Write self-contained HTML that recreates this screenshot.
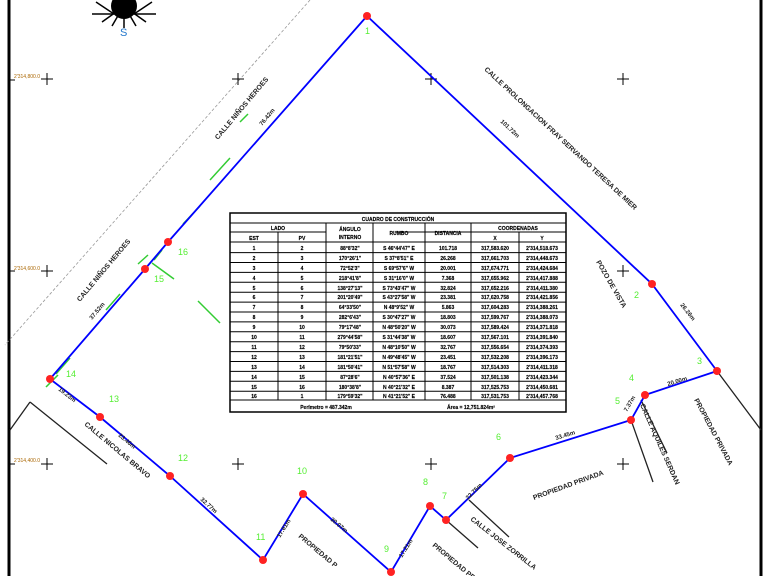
<!DOCTYPE html>
<html><head><meta charset="utf-8"><style>
html,body{margin:0;padding:0;background:#fff;width:768px;height:576px;overflow:hidden}
svg{display:block}
text{font-family:"Liberation Sans",sans-serif}
.st{font-size:7px;font-weight:bold;fill:#222}
.gn{font-size:9px;fill:#5e3;}
.d{font-size:6px;font-weight:bold;fill:#222}
.t{font-size:5px;font-weight:bold;fill:#000;text-anchor:middle;stroke:#000;stroke-width:0.15}
</style></head><body>
<svg width="768" height="576" viewBox="0 0 768 576" xmlns="http://www.w3.org/2000/svg">
<rect width="768" height="576" fill="#fff"/>
<line x1="9" y1="0" x2="9" y2="576" stroke="#000" stroke-width="3"/>
<line x1="761" y1="0" x2="761" y2="576" stroke="#000" stroke-width="3"/>
<line x1="310" y1="0" x2="5" y2="345" stroke="#999" stroke-width="0.8" stroke-dasharray="3,2"/>
<!-- compass -->
<g transform="translate(124,6)">
<circle r="13" fill="#000"/>
<g stroke="#000" stroke-width="1.5"><line x1="-32" y1="8" x2="32" y2="8"/><line x1="-28" y1="-4" x2="-10" y2="8"/><line x1="28" y1="-4" x2="10" y2="8"/><line x1="-12" y1="20" x2="-5" y2="8"/><line x1="12" y1="20" x2="5" y2="8"/><line x1="-22" y1="16" x2="-8" y2="6"/><line x1="22" y1="16" x2="8" y2="6"/><line x1="0" y1="0" x2="0" y2="22"/></g>
<text x="-4" y="30" font-size="11" fill="#27c">S</text>
</g>
<!-- grid crosses -->
<g stroke="#000" stroke-width="1">
<path d="M41 79h12M47 73v12M232 79h12M238 73v12M425 79h12M431 73v12M617 79h12M623 73v12"/>
<path d="M41 271h12M47 265v12M617 271h12M623 265v12"/>
<path d="M41 464h12M47 458v12M232 464h12M238 458v12M425 464h12M431 458v12M617 464h12M623 458v12"/>
<path d="M9 80h6M9 271h6M9 464h6"/>
</g>
<g font-size="5" fill="#a60"><text x="14" y="78">2'314,800.0</text><text x="14" y="270">2'314,600.0</text><text x="14" y="462">2'314,400.0</text></g>
<!-- black street lines -->
<g stroke="#222" stroke-width="1.3">
<path d="M30 402L107 464M717 371L761 430M641 400L667 453M631 420L653 482M446 520L478 548M469 500L509 537"/>
<path d="M10 430L30 402"/>
</g>
<!-- green segments -->
<g stroke="#3c3" stroke-width="1.5">
<path d="M248 114l-8 8M230 158l-20 22M200 206l-17 18M162 250l-8 10M148 255l-10 9M120 294l-14 16M70 358l-14 16M58 375l-12 12M198 301l22 22M152 263l22 16"/>
</g>
<polyline fill="none" stroke="#00f" stroke-width="1.8" points="367,16 652,284 717,371 645,395 631,420 510,458 446,520 430,506 391,572 303,494 263,560 170,476 100,417 50,379 145,269 168,242 367,16"/>
<g fill="#f22">
<circle cx="367" cy="16" r="4"/><circle cx="652" cy="284" r="4"/><circle cx="717" cy="371" r="4"/><circle cx="645" cy="395" r="4"/><circle cx="631" cy="420" r="4"/><circle cx="510" cy="458" r="4"/><circle cx="446" cy="520" r="4"/><circle cx="430" cy="506" r="4"/><circle cx="391" cy="572" r="4"/><circle cx="303" cy="494" r="4"/><circle cx="263" cy="560" r="4"/><circle cx="170" cy="476" r="4"/><circle cx="100" cy="417" r="4"/><circle cx="50" cy="379" r="4"/><circle cx="145" cy="269" r="4"/><circle cx="168" cy="242" r="4"/>
</g>
<g class="gn">
<text x="365" y="34">1</text><text x="634" y="298">2</text><text x="697" y="364">3</text><text x="629" y="381">4</text><text x="615" y="404">5</text><text x="496" y="440">6</text><text x="442" y="499">7</text><text x="423" y="485">8</text><text x="384" y="552">9</text><text x="297" y="474">10</text><text x="256" y="540">11</text><text x="178" y="461">12</text><text x="109" y="402">13</text><text x="66" y="377">14</text><text x="154" y="282">15</text><text x="178" y="255">16</text>
</g>
<!-- street labels -->
<text class="st" transform="translate(218,140) rotate(-50)">CALLE NIÑOS HEROES</text>
<text class="st" transform="translate(80,302) rotate(-50)">CALLE NIÑOS HEROES</text>
<text class="st" transform="translate(484,70) rotate(43)">CALLE PROLONGACION FRAY SERVANDO TERESA DE MIER</text>
<text class="st" transform="translate(596,262) rotate(60)">POZO DE VISTA</text>
<text class="st" transform="translate(694,400) rotate(62)">PROPIEDAD PRIVADA</text>
<text class="st" transform="translate(640,405) rotate(66)">CALLE AQUILES SERDAN</text>
<text class="st" transform="translate(534,500) rotate(-20)">PROPIEDAD PRIVADA</text>
<text class="st" transform="translate(470,520) rotate(38)">CALLE JOSE ZORRILLA</text>
<text class="st" transform="translate(432,546) rotate(40)">PROPIEDAD PRIVADA</text>
<text class="st" transform="translate(298,537) rotate(40)">PROPIEDAD P</text>
<text class="st" transform="translate(84,425) rotate(40)">CALLE NICOLAS BRAVO</text>
<!-- distances -->
<g class="d">
<text transform="translate(500,122) rotate(43)">101.72m</text>
<text transform="translate(680,305) rotate(52)">26.26m</text>
<text transform="translate(668,386) rotate(-17)">20.00m</text>
<text transform="translate(627,412) rotate(-60)">7.37m</text>
<text transform="translate(556,440) rotate(-17)">33.45m</text>
<text transform="translate(468,500) rotate(-45)">22.75m</text>
<text transform="translate(402,558) rotate(-58)">17.21m</text>
<text transform="translate(330,520) rotate(40)">30.07m</text>
<text transform="translate(280,538) rotate(-58)">17.61m</text>
<text transform="translate(200,500) rotate(42)">32.77m</text>
<text transform="translate(118,436) rotate(40)">23.46m</text>
<text transform="translate(58,390) rotate(38)">19.23m</text>
<text transform="translate(92,320) rotate(-50)">37.52m</text>
<text transform="translate(262,126) rotate(-50)">76.42m</text>
</g>
<!-- table -->
<g transform="translate(230,213)">
<rect x="0" y="0" width="336" height="199" fill="#fff" stroke="#000" stroke-width="1.5"/>
<line x1="0" y1="10" x2="336" y2="10" stroke="#000"/>
<line x1="0" y1="29" x2="336" y2="29" stroke="#000"/>
<line x1="0" y1="187" x2="336" y2="187" stroke="#000"/>
<g stroke="#000"><line x1="0" y1="19" x2="96" y2="19"/><line x1="165" y1="19" x2="336" y2="19"/>
<line x1="96" y1="10" x2="96" y2="187"/><line x1="143" y1="10" x2="143" y2="187"/><line x1="195" y1="10" x2="195" y2="187"/><line x1="241" y1="10" x2="241" y2="187"/><line x1="289" y1="19" x2="289" y2="187"/><line x1="48" y1="19" x2="48" y2="187"/>
<path d="M0 39.6h336M0 49.5h336M0 59.4h336M0 69.3h336M0 79.2h336M0 89.1h336M0 99h336M0 108.9h336M0 118.8h336M0 128.7h336M0 138.6h336M0 148.5h336M0 158.4h336M0 168.3h336M0 178.2h336"/>
</g>
<text class="t" x="168" y="8">CUADRO DE CONSTRUCCIÓN</text>
<text class="t" x="48" y="17">LADO</text><text class="t" x="24" y="27">EST</text><text class="t" x="72" y="27">PV</text>
<text class="t" x="120" y="18">ÁNGULO</text><text class="t" x="120" y="26">INTERNO</text>
<text class="t" x="169" y="22">RUMBO</text><text class="t" x="218" y="22">DISTANCIA</text>
<text class="t" x="288" y="17">COORDENADAS</text><text class="t" x="265" y="27">X</text><text class="t" x="312" y="27">Y</text>
<g class="t">
<text x="24" y="37">1</text><text x="72" y="37">2</text><text x="120" y="37">88°8'32"</text><text x="169" y="37">S 46°44'47" E</text><text x="218" y="37">101.718</text><text x="265" y="37">317,583.620</text><text x="312" y="37">2'314,518.673</text>
<text x="24" y="47">2</text><text x="72" y="47">3</text><text x="120" y="47">170°26'1"</text><text x="169" y="47">S 37°8'51" E</text><text x="218" y="47">26.268</text><text x="265" y="47">317,661.703</text><text x="312" y="47">2'314,448.673</text>
<text x="24" y="57">3</text><text x="72" y="57">4</text><text x="120" y="57">72°52'3"</text><text x="169" y="57">S 69°57'6" W</text><text x="218" y="57">20.001</text><text x="265" y="57">317,674.771</text><text x="312" y="57">2'314,424.684</text>
<text x="24" y="67">4</text><text x="72" y="67">5</text><text x="120" y="67">218°41'8"</text><text x="169" y="67">S 31°16'0" W</text><text x="218" y="67">7.368</text><text x="265" y="67">317,655.962</text><text x="312" y="67">2'314,417.888</text>
<text x="24" y="77">5</text><text x="72" y="77">6</text><text x="120" y="77">138°27'13"</text><text x="169" y="77">S 73°43'47" W</text><text x="218" y="77">32.824</text><text x="265" y="77">317,652.216</text><text x="312" y="77">2'314,411.380</text>
<text x="24" y="86">6</text><text x="72" y="86">7</text><text x="120" y="86">201°20'49"</text><text x="169" y="86">S 43°27'58" W</text><text x="218" y="86">23.381</text><text x="265" y="86">317,620.758</text><text x="312" y="86">2'314,421.856</text>
<text x="24" y="96">7</text><text x="72" y="96">8</text><text x="120" y="96">64°33'50"</text><text x="169" y="96">N 48°9'52" W</text><text x="218" y="96">5.863</text><text x="265" y="96">317,604.283</text><text x="312" y="96">2'314,388.261</text>
<text x="24" y="106">8</text><text x="72" y="106">9</text><text x="120" y="106">282°6'43"</text><text x="169" y="106">S 30°47'27" W</text><text x="218" y="106">18.803</text><text x="265" y="106">317,599.767</text><text x="312" y="106">2'314,388.073</text>
<text x="24" y="116">9</text><text x="72" y="116">10</text><text x="120" y="116">79°17'48"</text><text x="169" y="116">N 48°50'20" W</text><text x="218" y="116">30.073</text><text x="265" y="116">317,589.424</text><text x="312" y="116">2'314,371.818</text>
<text x="24" y="126">10</text><text x="72" y="126">11</text><text x="120" y="126">279°44'58"</text><text x="169" y="126">S 31°44'38" W</text><text x="218" y="126">18.607</text><text x="265" y="126">317,567.101</text><text x="312" y="126">2'314,391.840</text>
<text x="24" y="136">11</text><text x="72" y="136">12</text><text x="120" y="136">79°50'33"</text><text x="169" y="136">N 48°10'50" W</text><text x="218" y="136">32.767</text><text x="265" y="136">317,556.654</text><text x="312" y="136">2'314,374.393</text>
<text x="24" y="146">12</text><text x="72" y="146">13</text><text x="120" y="146">181°21'51"</text><text x="169" y="146">N 49°48'45" W</text><text x="218" y="146">23.451</text><text x="265" y="146">317,532.208</text><text x="312" y="146">2'314,396.173</text>
<text x="24" y="156">13</text><text x="72" y="156">14</text><text x="120" y="156">181°50'41"</text><text x="169" y="156">N 51°57'58" W</text><text x="218" y="156">18.767</text><text x="265" y="156">317,514.303</text><text x="312" y="156">2'314,411.318</text>
<text x="24" y="166">14</text><text x="72" y="166">15</text><text x="120" y="166">87°28'6"</text><text x="169" y="166">N 40°57'36" E</text><text x="218" y="166">37.524</text><text x="265" y="166">317,501.138</text><text x="312" y="166">2'314,423.344</text>
<text x="24" y="176">15</text><text x="72" y="176">16</text><text x="120" y="176">180°38'8"</text><text x="169" y="176">N 40°21'32" E</text><text x="218" y="176">8.387</text><text x="265" y="176">317,525.753</text><text x="312" y="176">2'314,450.681</text>
<text x="24" y="185">16</text><text x="72" y="185">1</text><text x="120" y="185">179°59'32"</text><text x="169" y="185">N 41°21'52" E</text><text x="218" y="185">76.488</text><text x="265" y="185">317,531.753</text><text x="312" y="185">2'314,457.768</text>
</g>
<text class="t" x="96" y="196">Perímetro = 487.342m</text>
<text class="t" x="241" y="196">Área = 12,751.824m²</text>
</g>
</svg>
</body></html>
